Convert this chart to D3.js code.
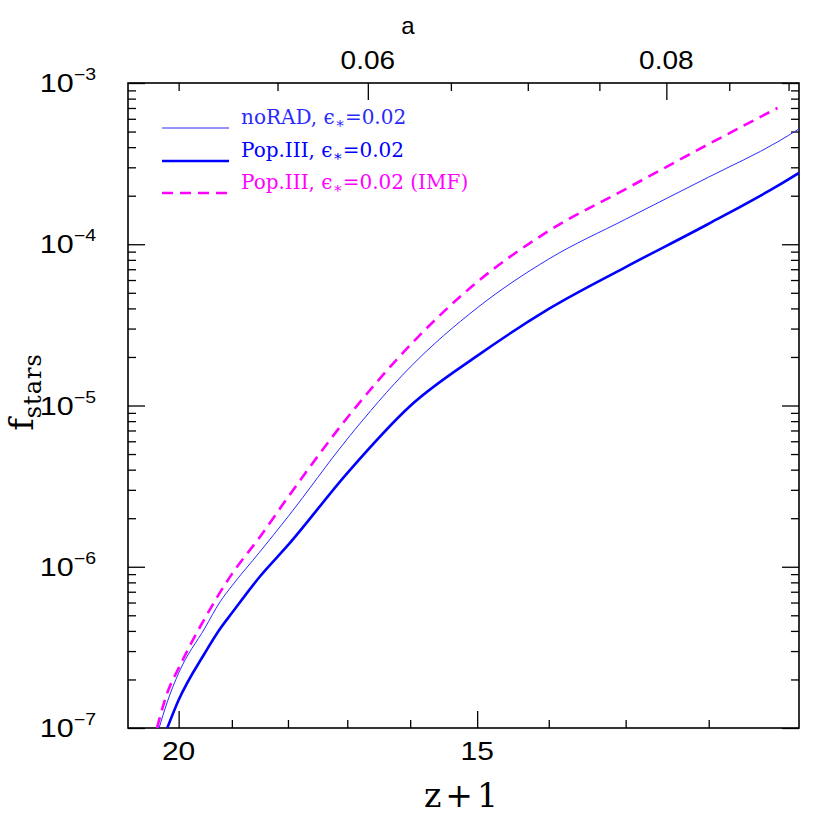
<!DOCTYPE html>
<html>
<head>
<meta charset="utf-8">
<script src="https://cdn.jsdelivr.net/npm/d3@7"></script>
<style>
  body { margin: 0; background: #fff; }
  svg text { fill: #000; }
</style>
</head>
<body>
<svg id="chart" width="830" height="830"></svg>
<script>
// redshift (z+1) samples and the three f_stars curves
var zp1      = [20.42, 20.38, 20.22, 20, 19.5, 19.22, 19, 18.5, 18, 17, 16, 15, 14, 13, 12, 11.23, 11];
var noRAD    = [null, 1.0e-7, 1.45e-7, 2.19e-7, 4.17e-7, 6.04e-7, 7.6e-7, 1.23e-6, 2.04e-6, 6.2e-6, 1.73e-5, 4.03e-5, 8.1e-5, 1.43e-4, 2.61e-4, 4.31e-4, 5.19e-4];
var popIII   = [null, null, 1.0e-7, 1.49e-7, 2.92e-7, 4.11e-7, 5.16e-7, 8.64e-7, 1.36e-6, 3.81e-6, 9.93e-6, 2.03e-5, 3.97e-5, 7.22e-5, 1.34e-4, 2.30e-4, 2.77e-4];
var popIMF   = [1.0e-7, 1.12e-7, 1.65e-7, 2.35e-7, 4.8e-7, null, 9.0e-7, 1.52e-6, 2.7e-6, 8.4e-6, 2.37e-5, 5.83e-5, 1.21e-4, 2.2e-4, 4.18e-4, 7.0e-4, null];

var zMajor = [20, 15];
var zMinor = [19, 18, 17, 16, 14, 13, 12];
var aMajor = [0.06, 0.08];
var aMinor = [0.05, 0.055, 0.065, 0.07, 0.075, 0.085, 0.09];
var yMajor = [1e-7, 1e-6, 1e-5, 1e-4, 1e-3];

var legendLabels = ["noRAD, ", "Pop.III, ", "Pop.III, "];

var pL = 128, pR = 799, pT = 83, pB = 728;

var svg = d3.select("#chart");

var x = d3.scaleLog().domain([21, 11]).range([pL, pR]);
var y = d3.scaleLog().domain([1e-7, 1e-3]).range([pB, pT]);

var yMinor = [];
yMajor.slice(0, -1).forEach(function(d) {
  for (var k = 2; k <= 9; k++) yMinor.push(d * k);
});

// clip for curves
svg.append("clipPath").attr("id", "clip")
  .append("rect").attr("x", pL).attr("y", pT)
  .attr("width", pR - pL).attr("height", pB - pT);

// bottom axis (z+1)
svg.append("g").attr("transform", "translate(0," + pB + ")")
  .call(d3.axisBottom(x).tickValues(zMinor).tickSize(-8).tickFormat(""));
svg.append("g").attr("transform", "translate(0," + pB + ")")
  .call(d3.axisBottom(x).tickValues(zMajor).tickSize(-17).tickFormat(""));

// top axis (a = 1/(z+1))
svg.append("g").attr("transform", "translate(0," + pT + ")")
  .call(d3.axisTop(x).tickValues(aMinor.map(function(a) { return 1 / a; })).tickSize(-8).tickFormat(""));
svg.append("g").attr("transform", "translate(0," + pT + ")")
  .call(d3.axisTop(x).tickValues(aMajor.map(function(a) { return 1 / a; })).tickSize(-17).tickFormat(""));

// left / right axes
svg.append("g").attr("transform", "translate(" + pL + ",0)")
  .call(d3.axisLeft(y).tickValues(yMinor).tickSize(-8).tickFormat(""));
svg.append("g").attr("transform", "translate(" + pL + ",0)")
  .call(d3.axisLeft(y).tickValues(yMajor).tickSize(-17).tickFormat(""));
svg.append("g").attr("transform", "translate(" + pR + ",0)")
  .call(d3.axisRight(y).tickValues(yMinor).tickSize(-8).tickFormat(""));
svg.append("g").attr("transform", "translate(" + pR + ",0)")
  .call(d3.axisRight(y).tickValues(yMajor).tickSize(-17).tickFormat(""));

svg.selectAll(".domain").remove();
svg.selectAll(".tick line").attr("stroke", "#000").attr("stroke-width", 1.3);

// frame
svg.append("rect").attr("x", pL).attr("y", pT)
  .attr("width", pR - pL).attr("height", pB - pT)
  .attr("fill", "none").attr("stroke", "#000").attr("stroke-width", 1.6);

var tickFont = "'Liberation Sans', sans-serif";
var serif = "'DejaVu Serif', serif";

// bottom tick labels (wide, plotter-like digits)
svg.selectAll(".zlab").data(zMajor).enter().append("text")
  .attr("transform", function(d) { return "translate(" + x(d) + ",760) scale(1.2,1)"; })
  .attr("text-anchor", "middle").attr("font-family", tickFont).attr("font-size", 25)
  .text(function(d) { return d; });

// top tick labels
svg.selectAll(".alab").data(aMajor).enter().append("text")
  .attr("transform", function(d) { return "translate(" + x(1 / d) + ",69) scale(1.12,1)"; })
  .attr("text-anchor", "middle").attr("font-family", tickFont).attr("font-size", 25)
  .text(function(d) { return d.toFixed(2); });

// y tick labels 10^n
yMajor.forEach(function(d) {
  var t = svg.append("text").attr("transform", "translate(96," + (y(d) + 9) + ") scale(1.22,1)")
    .attr("text-anchor", "end").attr("font-family", tickFont).attr("font-size", 25);
  t.append("tspan").text("10");
  t.append("tspan").attr("dy", -12).attr("font-size", 16).text("\u2212" + (-Math.round(Math.log10(d))));
});

// axis titles
svg.append("text").attr("x", 463).attr("y", 807).attr("text-anchor", "middle")
  .attr("font-family", serif).attr("font-size", 33).attr("letter-spacing", 4).text("z+1");
svg.append("text").attr("x", 408).attr("y", 34).attr("text-anchor", "middle")
  .attr("font-family", tickFont).attr("font-size", 24).text("a");
var yl = svg.append("text").attr("transform", "translate(33,392) rotate(-90)")
  .attr("text-anchor", "middle").attr("font-family", serif).attr("font-size", 34);
yl.append("tspan").text("f");
yl.append("tspan").attr("dy", 8).attr("font-size", 24).attr("letter-spacing", 1).text("stars");

// curves
var series = [
  { vals: noRAD, color: "#2a2aff", width: 1, dash: null },
  { vals: popIII, color: "#0000ff", width: 2.6, dash: null },
  { vals: popIMF, color: "#ff00ff", width: 2.6, dash: "11,7" }
];

var line = d3.line()
  .curve(d3.curveMonotoneX)
  .x(function(d) { return x(d[0]); })
  .y(function(d) { return y(d[1]); });

var plot = svg.append("g").attr("clip-path", "url(#clip)");
series.forEach(function(s) {
  var pts = zp1.map(function(z, i) { return [z, s.vals[i]]; }).filter(function(d) { return d[1] != null; });
  plot.append("path").datum(pts)
    .attr("d", line).attr("fill", "none")
    .attr("stroke", s.color).attr("stroke-width", s.width)
    .attr("stroke-dasharray", s.dash);
});

// legend
var legY = [128, 161, 193];
var legColors = ["#2a2aff", "#0000ff", "#ff00ff"];
series.forEach(function(s, i) {
  svg.append("line").attr("x1", 162).attr("x2", 229)
    .attr("y1", legY[i]).attr("y2", legY[i])
    .attr("stroke", s.color).attr("stroke-width", s.width)
    .attr("stroke-dasharray", s.dash);
  var t = svg.append("text").attr("x", 241).attr("y", legY[i] - 4)
    .attr("font-family", serif).attr("font-size", 20).style("fill", legColors[i]);
  t.append("tspan").text(legendLabels[i] + "\u03F5");
  t.append("tspan").attr("dy", 4).attr("font-size", 15).text("\u2217");
  t.append("tspan").attr("dy", -4).text("=0.02" + (i === 2 ? " (IMF)" : ""));
});
</script>
</body>
</html>
